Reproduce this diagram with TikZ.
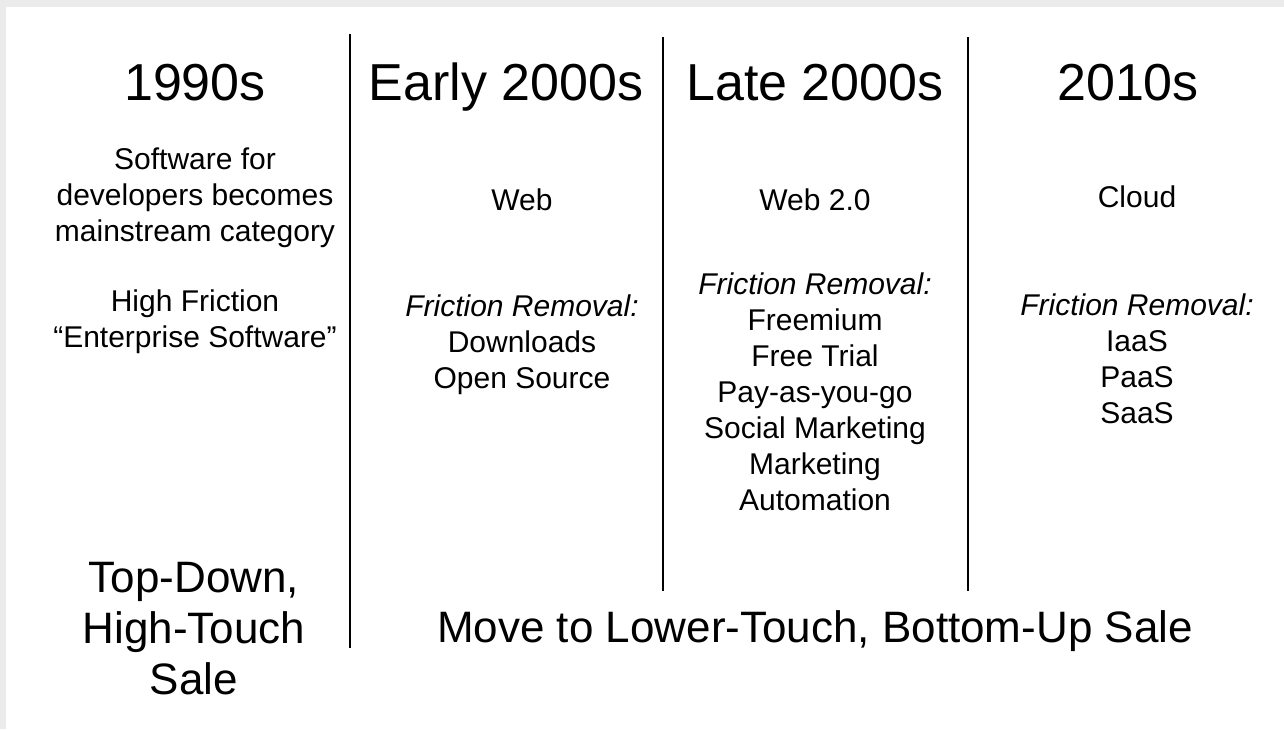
\documentclass[tikz,border=0pt]{standalone}
\usepackage{fontspec}
\setmainfont{Liberation Sans}
\usepackage{tikz}
\usetikzlibrary{positioning}
\definecolor{framegray}{HTML}{EBEBEB}

\begin{document}
\begin{tikzpicture}[x=1pt, y=-1pt,
    era/.style={font=\fontsize{52}{60}\selectfont, text height=39pt, text depth=10pt},
    body/.style={align=center, font=\fontsize{30}{36}\selectfont},
    sale/.style={align=center, font=\fontsize{44}{51}\selectfont},
    divider/.style={line width=2.8pt}]

    \useasboundingbox (0,0) rectangle (1284,729);

    % Frame strips
    \fill[framegray] (0,0) rectangle (1284,7);
    \fill[framegray] (0,0) rectangle (6,729);

    % Dividers
    \coordinate (d1top) at (350,34);  \coordinate (d1bot) at (350,648);
    \coordinate (d2top) at (663,37);  \coordinate (d2bot) at (663,591);
    \coordinate (d3top) at (968,37);  \coordinate (d3bot) at (968,591);
    \draw[divider] (d1top) -- (d1bot);
    \draw[divider] (d2top) -- (d2bot);
    \draw[divider] (d3top) -- (d3bot);

    % Headers
    \node[era] (h1) at (195,86) {1990s};
    \node[era] (h2) at (506,86) {Early 2000s};
    \node[era] (h3) at (815,86) {Late 2000s};
    \node[era] (h4) at (1128,86) {2010s};

    % 1990s
    \node[body] (dev) at (195,198) {Software for\\developers becomes\\mainstream category};
    \node[body] (high) at (195,322) {High Friction\\“Enterprise Software”};

    % Early 2000s
    \node[body] (web) at (522,200) {Web};
    \node[body] (fr2) at (522,345) {\itshape Friction Removal:\\Downloads\\Open Source};

    % Late 2000s
    \node[body] (web2) at (815,200) {Web 2.0};
    \node[body] (fr3) at (815,392) {\itshape Friction Removal:\\Freemium\\Free Trial\\Pay-as-you-go\\Social Marketing\\Marketing\\Automation};

    % 2010s
    \node[body] (cloud) at (1137,197) {Cloud};
    \node[body] (fr4) at (1137,359) {\itshape Friction Removal:\\IaaS\\PaaS\\SaaS};

    % Sales
    \node[sale] (topdown) at (194,629) {Top-Down,\\High-Touch\\Sale};
    \node[sale] (bottomup) at (815,631) {Move to Lower-Touch, Bottom-Up Sale};

\end{tikzpicture}
\end{document}
